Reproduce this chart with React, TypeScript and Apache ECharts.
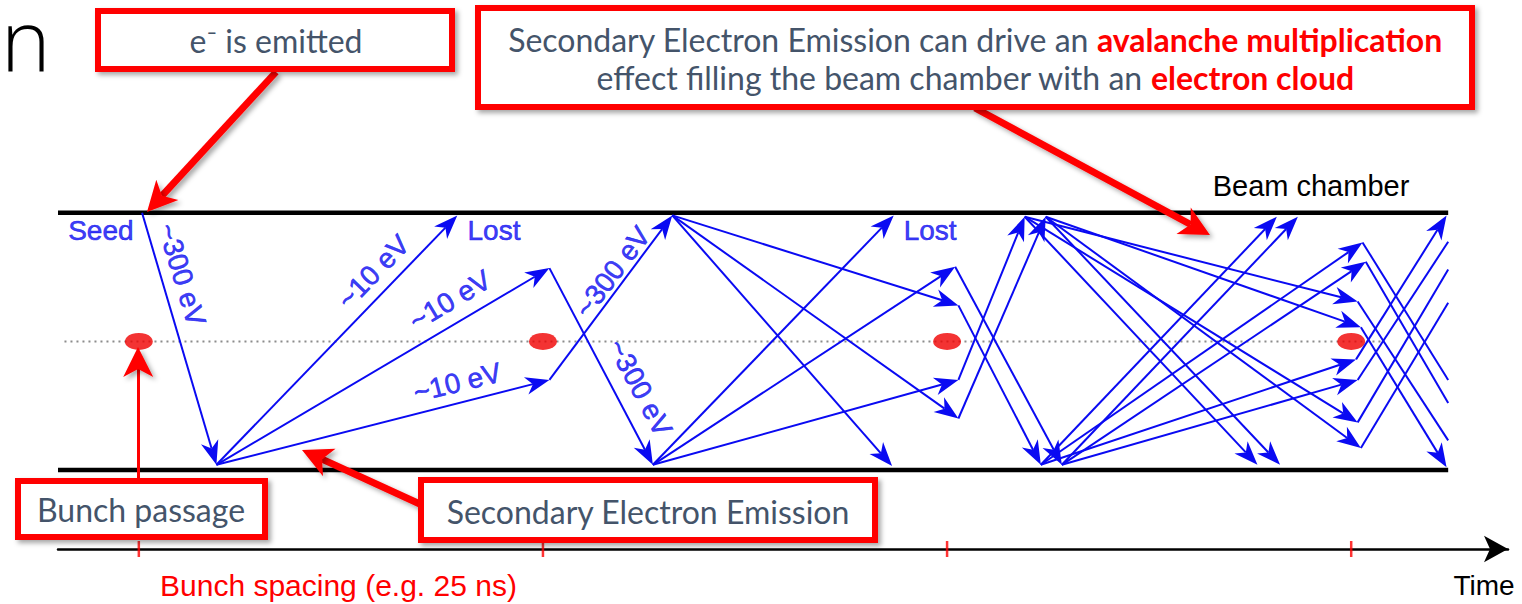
import React, { useEffect, useRef } from "react";
import * as echarts from "echarts";

// Diagram units: x = time in ns (bunch spacing 25 ns), y = transverse position in
// chamber half-heights (+1 = top wall, -1 = bottom wall, 0 = beam axis).
const bunchTimes = [0, 25, 50, 75];
const wallPositions = [1, -1];
const chamberSpan = [-5, 81];
const centreLineSpan = [-4.6, 77];

// Electron trajectory segments: [t0, y0, t1, y1, arrowhead (1) or cut at chamber end (0)]
const seedPath = [[0.2, 1.0, 4.8, -0.96, 1]];
const firstSecondaries = [
  [4.8, -0.96, 19.7, 0.98, 1],
  [4.8, -0.96, 25.4, 0.57, 1],
  [4.8, -0.96, 25.4, -0.3, 1],
];
const firstKick = [
  [25.4, -0.3, 33.0, 0.98, 1],
  [25.4, 0.57, 31.8, -0.96, 1],
];
const secondSecondaries = [
  [33.0, 0.98, 46.6, -0.97, 1],
  [33.0, 0.98, 50.7, 0.28, 1],
  [33.0, 0.98, 50.7, -0.6, 1],
  [31.8, -0.96, 46.7, 0.98, 1],
  [31.8, -0.96, 50.5, 0.58, 1],
  [31.8, -0.96, 50.7, -0.3, 1],
];
const secondKick = [
  [50.5, 0.58, 57.1, -0.96, 1],
  [50.7, 0.28, 55.8, -0.96, 1],
  [50.7, -0.3, 54.8, 0.97, 1],
  [50.7, -0.6, 56.1, 0.97, 1],
];
const thirdSecondaries = [
  [54.8, 0.97, 69.2, -0.96, 1],
  [54.8, 0.97, 75.4, 0.31, 1],
  [54.8, 0.97, 75.4, -0.63, 1],
  [56.1, 0.97, 70.6, -0.96, 1],
  [56.1, 0.97, 75.6, 0.11, 1],
  [56.1, 0.97, 75.6, -0.83, 1],
  [55.8, -0.96, 70.4, 0.97, 1],
  [55.8, -0.96, 75.7, 0.77, 1],
  [55.8, -0.96, 75.3, -0.14, 1],
  [57.1, -0.96, 71.7, 0.97, 1],
  [57.1, -0.96, 75.9, 0.62, 1],
  [57.1, -0.96, 75.4, -0.3, 1],
];
const thirdKick = [
  [75.6, 0.11, 80.9, -0.98, 1],
  [75.3, -0.14, 80.9, 0.98, 1],
  [75.7, 0.77, 81.0, -0.3, 0],
  [75.9, 0.62, 81.0, -0.48, 0],
  [75.4, 0.31, 81.0, -0.77, 0],
  [75.4, -0.3, 81.0, 0.775, 0],
  [75.4, -0.63, 81.0, 0.56, 0],
  [75.6, -0.83, 81.0, 0.3, 0],
];

// Trajectory annotations: [t, y, text, angle in degrees]
const trajectoryLabels: [number, number, string, number][] = [
  [-2.35, 0.86, "Seed", 0],
  [21.97, 0.86, "Lost", 0],
  [48.95, 0.86, "Lost", 0],
  [2.66, 0.52, "~300 eV", -73],
  [14.5, 0.54, "~10 eV", 46],
  [19.25, 0.32, "~10 eV", 31],
  [19.7, -0.32, "~10 eV", 14],
  [29.3, 0.54, "~300 eV", 53],
  [31.0, -0.36, "~300 eV", -62],
];

const BLUE = "#0a0af2";
const RED = "#ff0000";
const SLATE = "#44546a";
const FONT_SANS = '"Liberation Sans", Arial, sans-serif';
const FONT_BOX = 'Lato, "Open Sans", sans-serif';
const BOX_FONT_SIZE = 32;

const shadow = {
  shadowBlur: 5,
  shadowColor: "rgba(0,0,0,0.35)",
  shadowOffsetX: 3,
  shadowOffsetY: 3,
};

function redArrow(x1: number, y1: number, x2: number, y2: number) {
  const dx = x2 - x1;
  const dy = y2 - y1;
  const L = Math.hypot(dx, dy);
  const ux = dx / L;
  const uy = dy / L;
  const nx = -uy;
  const ny = ux;
  const hl = 30;
  const hw = 15;
  const notch = 22;
  const bx = x2 - ux * hl;
  const by = y2 - uy * hl;
  const mx = x2 - ux * notch;
  const my = y2 - uy * notch;
  return [
    {
      type: "line",
      z: 100,
      shape: { x1, y1, x2: mx, y2: my },
      style: { stroke: RED, lineWidth: 7, ...shadow },
    },
    {
      type: "polygon",
      z: 100,
      shape: {
        points: [
          [x2, y2],
          [bx + nx * hw, by + ny * hw],
          [mx, my],
          [bx - nx * hw, by - ny * hw],
        ],
      },
      style: { fill: RED, ...shadow },
    },
  ];
}

function box(x: number, y: number, w: number, h: number) {
  return {
    type: "rect",
    z: 110,
    shape: { x, y, width: w, height: h },
    style: { fill: "#fff", stroke: RED, lineWidth: 6, ...shadow },
  };
}

function boxText(x: number, y: number, text: string, rich?: any) {
  return {
    type: "text",
    z: 120,
    x,
    y,
    style: {
      text,
      fill: SLATE,
      fontSize: BOX_FONT_SIZE,
      fontFamily: FONT_BOX,
      align: "center",
      verticalAlign: "middle",
      rich,
    },
  };
}

export default function App() {
  const ref = useRef<HTMLDivElement>(null);

  useEffect(() => {
    const chart = echarts.init(ref.current!, null, { renderer: "svg" });
    const segments = [
      ...seedPath,
      ...firstSecondaries,
      ...firstKick,
      ...secondSecondaries,
      ...secondKick,
      ...thirdSecondaries,
      ...thirdKick,
    ];

    const richNormal = {
      fontSize: BOX_FONT_SIZE,
      fontFamily: FONT_BOX,
      fill: SLATE,
      lineHeight: 38,
    };
    const richBold = { ...richNormal, fill: RED, fontWeight: "bold" };

    const option: any = {
      animation: false,
      backgroundColor: "#fff",
      grid: { left: 58, right: 14, top: 83, bottom: 55 },
      xAxis: {
        type: "value",
        min: -5,
        max: 84.7,
        axisLine: {
          show: true,
          onZero: false,
          symbol: ["none", "arrow"],
          symbolSize: [20, 24],
          lineStyle: { color: "#000", width: 2.5 },
        },
        axisTick: { show: false },
        axisLabel: { show: false },
        splitLine: { show: false },
      },
      yAxis: {
        type: "value",
        min: -1.615,
        max: 2.01,
        show: false,
      },
      series: [
        {
          name: "Beam axis",
          type: "line",
          silent: true,
          symbol: "none",
          z: 1,
          data: centreLineSpan.map((t) => [t, 0]),
          lineStyle: { color: "#8c8c8c", width: 2, type: [2, 4] },
        },
        ...wallPositions.map((yw) => ({
          name: "Chamber wall",
          type: "line",
          silent: true,
          symbol: "none",
          z: 3,
          data: chamberSpan.map((t) => [t, yw]),
          lineStyle: { color: "#000", width: 4.5 },
        })),
        {
          name: "Bunches",
          type: "scatter",
          silent: true,
          z: 2,
          symbol: "circle",
          symbolSize: [28, 17],
          itemStyle: { color: "#f00000" },
          data: bunchTimes.map((t) => [t, 0]),
        },
        {
          name: "Bunch ticks",
          type: "scatter",
          silent: true,
          clip: false,
          z: 4,
          symbol: "rect",
          symbolSize: [2.5, 16],
          itemStyle: { color: RED },
          data: bunchTimes.map((t) => [t, -1.615]),
        },
        {
          name: "Electrons",
          type: "custom",
          silent: true,
          z: 5,
          data: segments,
          encode: { x: [0, 2], y: [1, 3] },
          renderItem: (params: any, api: any) => {
            const a = api.coord([api.value(0), api.value(1)]);
            const b = api.coord([api.value(2), api.value(3)]);
            const head = api.value(4) === 1;
            const dx = b[0] - a[0];
            const dy = b[1] - a[1];
            const L = Math.hypot(dx, dy);
            const ux = dx / L;
            const uy = dy / L;
            const nx = -uy;
            const ny = ux;
            const hl = 24;
            const hw = 9;
            const notch = 17;
            const end = head ? [b[0] - ux * notch, b[1] - uy * notch] : b;
            const children: any[] = [
              {
                type: "line",
                shape: { x1: a[0], y1: a[1], x2: end[0], y2: end[1] },
                style: { stroke: BLUE, lineWidth: 2 },
              },
            ];
            if (head) {
              children.push({
                type: "polygon",
                shape: {
                  points: [
                    b,
                    [b[0] - ux * hl + nx * hw, b[1] - uy * hl + ny * hw],
                    end,
                    [b[0] - ux * hl - nx * hw, b[1] - uy * hl - ny * hw],
                  ],
                },
                style: { fill: BLUE },
              });
            }
            return { type: "group", children };
          },
        },
        {
          name: "Annotations",
          type: "scatter",
          silent: true,
          z: 6,
          symbolSize: 1,
          itemStyle: { color: "rgba(0,0,0,0)" },
          label: {
            show: true,
            position: "inside",
            color: BLUE,
            fontSize: 28,
            fontFamily: FONT_SANS,
            textBorderColor: BLUE,
            textBorderWidth: 0.6,
          },
          data: trajectoryLabels.map(([t, y, text, angle]) => ({
            value: [t, y],
            label: { formatter: text, rotate: angle },
          })),
        },
      ],
      graphic: {
        elements: [
          {
            type: "text",
            z: 50,
            x: 1,
            y: 38,
            style: {
              text: "n",
              fill: "#000",
              fontSize: 84,
              lineHeight: 56,
              fontWeight: 300,
              fontFamily: '"Open Sans", sans-serif',
              align: "left",
              verticalAlign: "middle",
            },
          },
          {
            type: "text",
            z: 50,
            x: 1311,
            y: 186,
            style: {
              text: "Beam chamber",
              fill: "#000",
              fontSize: 29,
              fontFamily: FONT_SANS,
              align: "center",
              verticalAlign: "middle",
            },
          },
          {
            type: "text",
            z: 50,
            x: 1484,
            y: 585,
            style: {
              text: "Time",
              fill: "#000",
              fontSize: 28,
              fontFamily: FONT_SANS,
              align: "center",
              verticalAlign: "middle",
            },
          },
          {
            type: "text",
            z: 50,
            x: 160,
            y: 585,
            style: {
              text: "Bunch spacing (e.g. 25 ns)",
              fill: RED,
              fontSize: 30,
              fontFamily: FONT_SANS,
              align: "left",
              verticalAlign: "middle",
            },
          },
          ...redArrow(276, 72, 147, 212),
          ...redArrow(975, 108, 1210, 235),
          ...redArrow(139, 482, 138, 347),
          ...redArrow(422, 505, 302, 450),
          box(98, 11, 354, 58),
          box(478, 8, 994, 99),
          box(18, 481, 247, 56),
          box(421, 480, 454, 60),
          boxText(276, 40, "e\u207B is emitted"),
          boxText(
            975,
            58,
            "{n|Secondary Electron Emission can drive an }{b|avalanche multiplication}\n{n|effect filling the beam chamber with an }{b|electron cloud}",
            { n: richNormal, b: richBold }
          ),
          boxText(141, 509, "Bunch passage"),
          boxText(648, 511, "Secondary Electron Emission"),
        ],
      },
    };

    chart.setOption(option);
    return () => chart.dispose();
  }, []);

  return (
    <div
      ref={ref}
      style={{ position: "absolute", left: 0, top: 0, width: 1522, height: 604, background: "#fff" }}
    />
  );
}
